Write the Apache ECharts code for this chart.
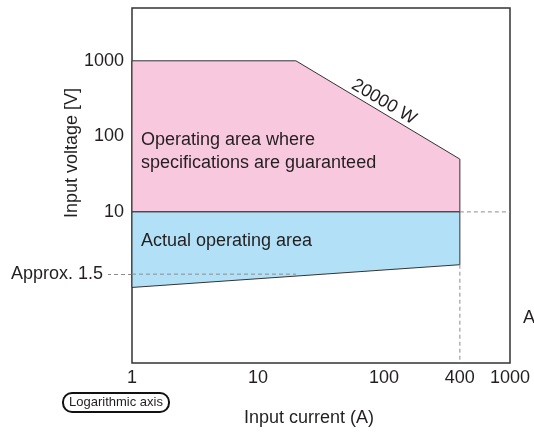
<!DOCTYPE html>
<html>
<head>
<meta charset="utf-8">
<script src="https://cdn.jsdelivr.net/npm/echarts@6/dist/echarts.min.js"></script>
<style>
  html, body { margin: 0; padding: 0; background: #fff; }
  #chart { width: 534px; height: 434px; }
</style>
</head>
<body>
<div id="chart"></div>
<script>
// axis ranges and tick labels (A, V)
const currentRange = [1, 1000];
const voltageRange = [0.1, 5000];
const currentTicks = [1, 10, 100, 400, 1000];
const voltageTicks = [10, 100, 1000];
const approxVoltage = 1.5;

// spec-guaranteed area (pink), 20000 W limit between 20 A and 400 A
const specCurrent = [1, 20, 400, 400, 1];
const specVoltage = [1000, 1000, 50, 10, 10];

// actual operating area (blue)
const actualCurrent = [1, 400, 400, 1];
const actualVoltage = [10, 10, 2, 1];

// dashed guide lines
const guideTenCurrent = [400, 1000];
const guideTenVoltage = [10, 10];
const guideRatedCurrent = [400, 400];
const guideRatedVoltage = [2, 0.1];
const guideApproxCurrent = [1, 20];
const guideApproxVoltage = [1.5, 1.5];

const lg = Math.log10;
const pts = (xs, ys) => xs.map((x, i) => [lg(x), lg(ys[i])]);

const FONT = 'Liberation Sans, Arial, Helvetica, sans-serif';
const TXT = '#231f20';

function polygonSeries(xs, ys, fill) {
  const data = pts(xs, ys);
  return {
    type: 'custom',
    data: data,
    silent: true,
    renderItem: function (params, api) {
      if (params.dataIndex !== 0) return;
      return {
        type: 'polygon',
        shape: { points: data.map(p => api.coord(p)) },
        style: { fill: fill, stroke: '#333', lineWidth: 1 }
      };
    }
  };
}

function dashSeries(xs, ys) {
  return {
    type: 'line',
    data: pts(xs, ys),
    symbol: 'none',
    silent: true,
    z: 5,
    lineStyle: { color: '#8c8c8c', width: 1, type: [4, 3] }
  };
}

const chart = echarts.init(document.getElementById('chart'));
chart.setOption({
  animation: false,
  textStyle: { fontFamily: FONT },
  grid: {
    left: 132, right: 24, top: 8, bottom: 71,
    show: true, borderColor: '#333', borderWidth: 1.5
  },
  xAxis: {
    type: 'value',
    min: lg(currentRange[0]),
    max: lg(currentRange[1]),
    splitLine: { show: false },
    axisLine: { show: false },
    axisTick: { show: false },
    axisLabel: {
      customValues: currentTicks.map(lg),
      formatter: v => String(Math.round(Math.pow(10, v))),
      fontSize: 18, color: TXT, fontFamily: FONT, margin: 6
    }
  },
  yAxis: {
    type: 'value',
    min: lg(voltageRange[0]),
    max: lg(voltageRange[1]),
    splitLine: { show: false },
    axisLine: { show: false },
    axisTick: {
      show: true,
      customValues: [lg(approxVoltage)],
      length: 24,
      lineStyle: { color: '#8c8c8c', width: 1, type: [4, 3] }
    },
    axisLabel: {
      customValues: voltageTicks.map(lg).concat([lg(approxVoltage)]),
      formatter: v => v < 0.5 ? '{a|Approx. ' + approxVoltage + '}' : String(Math.round(Math.pow(10, v))),
      fontSize: 18, color: TXT, fontFamily: FONT, margin: 8,
      rich: { a: { fontSize: 18, color: TXT, fontFamily: FONT, padding: [0, 21, 0, 0] } }
    }
  },
  series: [
    polygonSeries(specCurrent, specVoltage, '#f8c9de'),
    polygonSeries(actualCurrent, actualVoltage, '#b2e1f7'),
    dashSeries(guideTenCurrent, guideTenVoltage),
    dashSeries(guideRatedCurrent, guideRatedVoltage),
    dashSeries(guideApproxCurrent, guideApproxVoltage)
  ],
  graphic: [
    {
      type: 'text', left: 141, top: 129, z: 10,
      style: { text: 'Operating area where\nspecifications are guaranteed', font: '18px ' + FONT, fill: TXT, lineHeight: 23 }
    },
    {
      type: 'text', left: 141, top: 232, z: 10,
      style: { text: 'Actual operating area', font: '18px ' + FONT, fill: TXT }
    },
    {
      type: 'text', x: 384, y: 102, rotation: -0.54, z: 10,
      style: { text: '20000 W', font: '18px ' + FONT, fill: TXT, align: 'center', verticalAlign: 'middle' }
    },
    {
      type: 'text', x: 523, y: 318, z: 10,
      style: { text: 'A', font: '18px ' + FONT, fill: TXT, verticalAlign: 'middle' }
    },
    {
      type: 'text', x: 72, y: 153, rotation: Math.PI / 2, z: 10,
      style: { text: 'Input voltage [V]', font: '18px ' + FONT, fill: TXT, align: 'center', verticalAlign: 'middle' }
    },
    {
      type: 'text', x: 309, y: 418, z: 10,
      style: { text: 'Input current (A)', font: '18px ' + FONT, fill: TXT, align: 'center', verticalAlign: 'middle' }
    },
    {
      type: 'rect', z: 10,
      shape: { x: 63, y: 393, width: 106, height: 19, r: 9 },
      style: { fill: '#fff', stroke: '#111', lineWidth: 2 }
    },
    {
      type: 'text', x: 116, y: 402.5, z: 11,
      style: { text: 'Logarithmic axis', font: '13px ' + FONT, fill: TXT, align: 'center', verticalAlign: 'middle' }
    }
  ]
});
</script>
</body>
</html>
